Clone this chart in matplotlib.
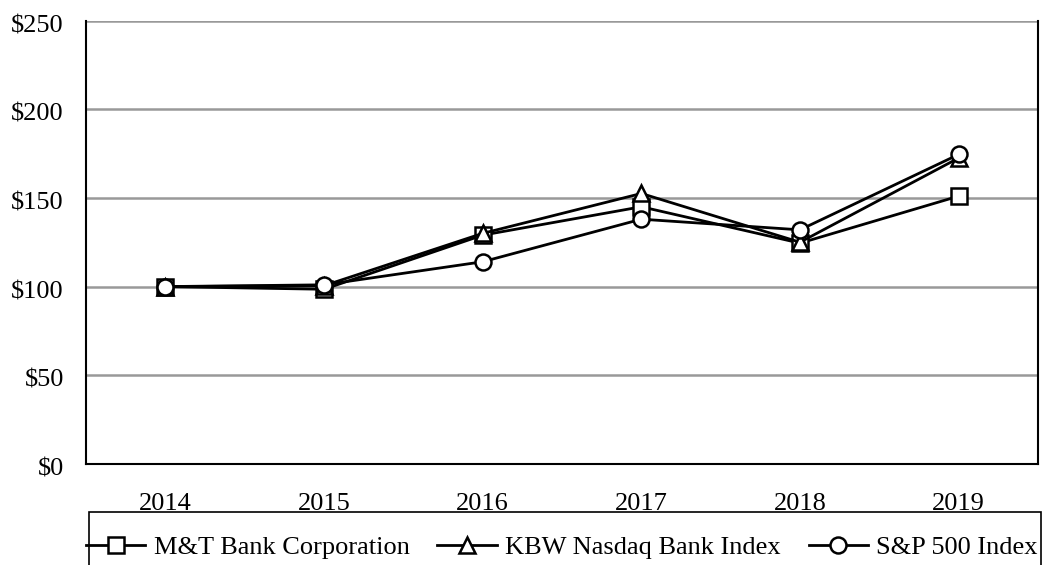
import matplotlib.pyplot as plt
import matplotlib.transforms as mtransforms
from matplotlib.patches import Rectangle
import numpy as np

years = ['2014', '2015', '2016', '2017', '2018', '2019']
mtb = [100, 98.5, 129, 145, 124.5, 151]
kbw = [100, 100.5, 130, 152.5, 125, 172.5]
spx = [100, 101, 114, 138, 132, 174.5]
y_ticks = [0, 50, 100, 150, 200, 250]
y_labels = ['$0', '$50', '$100', '$150', '$200', '$250']

plt.rcParams['font.family'] = ['Liberation Serif', 'DejaVu Serif']
plt.rcParams['font.size'] = 19

fig = plt.figure(figsize=(10.42, 5.65), dpi=100)
ax = fig.add_axes([86 / 1042, 1 - 464 / 565, (1038 - 86) / 1042, (464 - 20.5) / 565])

x = np.arange(len(years))
estilo = dict(color='black', linewidth=2, markersize=11.5,
              markerfacecolor='white', markeredgecolor='black', markeredgewidth=1.8)
ax.plot(x, mtb, marker='s', label='M&T Bank Corporation', zorder=3, **estilo)
ax.plot(x, kbw, marker='^', label='KBW Nasdaq Bank Index', zorder=4, **estilo)
ax.plot(x, spx, marker='o', label='S&P 500 Index', zorder=5, **estilo)

ax.set_xlim(-0.5, len(years) - 0.5)
ax.set_ylim(0, 250)
ax.set_xticks(x)
ax.set_xticklabels(years)
ax.set_yticks(y_ticks)
ax.set_yticklabels(y_labels)
ax.tick_params(axis='both', length=0)
ax.tick_params(axis='y', pad=16)
ax.tick_params(axis='x', pad=21)

# las etiquetas del eje y quedan un poco por debajo de la linea
desplazar = mtransforms.ScaledTranslation(0, -3 / 100, fig.dpi_scale_trans)
for etiqueta in ax.get_yticklabels():
    etiqueta.set_transform(etiqueta.get_transform() + desplazar)

ax.grid(axis='y', color='#999999', linewidth=1.8)
ax.set_axisbelow(True)
ax.spines['top'].set_visible(False)
for lado in ['left', 'right', 'bottom']:
    ax.spines[lado].set_color('black')
    ax.spines[lado].set_linewidth(1.5)

# caja de la leyenda (se sale por abajo como en el original)
fig.patches.append(Rectangle((89 / 1042, -0.05), (1041 - 89) / 1042, 1 - 512 / 565 + 0.05,
                             transform=fig.transFigure, fill=False,
                             edgecolor='black', linewidth=1.2))

fig.legend(loc='center left', bbox_to_anchor=(86 / 1042, 1 - 547 / 565),
           ncol=3, frameon=False, borderaxespad=0, borderpad=0,
           handlelength=2.25, handletextpad=0.32, columnspacing=1.05)

fig.savefig('out.png', dpi=100)
